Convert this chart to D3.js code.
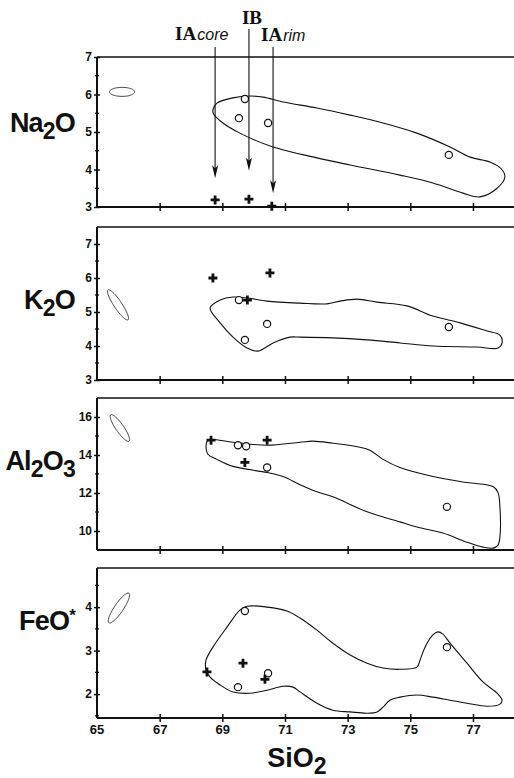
<!DOCTYPE html>
<html><head><meta charset="utf-8">
<script src="https://cdn.jsdelivr.net/npm/d3@7"></script>
<style>body{margin:0;background:#fff}svg{display:block}</style>
</head><body><svg id="c" width="514" height="778"></svg>
<script>
// ---------------- DATA ----------------
const xTicks = [65, 67, 69, 71, 73, 75, 77];

const naTicks = [3, 4, 5, 6, 7];
const naMinor = [3.5, 4.5, 5.5, 6.5];
const naCross = [[68.77, 3.19], [69.85, 3.21], [70.58, 3.02]];
const naCircle = [[69.72, 5.88], [69.53, 5.37], [70.46, 5.24], [76.23, 4.39]];
const naEnvelope = [[68.70,5.59],[68.83,5.77],[69.34,5.91],[69.88,5.96],[70.30,5.93],[70.94,5.80],[72.02,5.64],[73.08,5.45],[74.13,5.24],[75.21,4.97],[76.27,4.60],[76.91,4.33],[77.54,4.20],[77.90,4.02],[78.02,3.80],[77.77,3.50],[77.22,3.27],[76.68,3.37],[75.72,3.64],[74.67,3.85],[73.08,4.12],[72.02,4.31],[70.62,4.60],[69.56,4.97],[69.02,5.24],[68.72,5.48]];
const naEllipse = [65.80, 6.07, 0.40, 0.0, 0.36];

const kTicks = [3, 4, 5, 6, 7];
const kMinor = [3.5, 4.5, 5.5, 6.5];
const kCross = [[68.70, 6.00], [70.52, 6.15], [69.80, 5.35]];
const kCircle = [[69.53, 5.35], [69.72, 4.18], [70.43, 4.65], [76.23, 4.56]];
const kEnvelope = [[68.61,5.12],[68.93,5.35],[69.34,5.44],[69.82,5.41],[70.43,5.32],[71.48,5.26],[72.34,5.24],[72.76,5.32],[73.30,5.38],[73.94,5.29],[74.89,5.18],[75.72,4.88],[76.59,4.68],[77.45,4.44],[77.86,4.32],[77.93,4.09],[77.80,3.94],[77.13,3.97],[75.72,4.00],[74.67,4.09],[73.62,4.18],[72.53,4.24],[71.48,4.26],[71.16,4.26],[70.62,4.09],[70.14,3.85],[69.79,3.94],[69.34,4.26],[68.93,4.68]];
const kEllipse = [65.67, 5.21, 0.32, -0.44, 0.22];

const alTicks = [10, 12, 14, 16];
const alMinor = [11, 13, 15];
const alCross = [[68.64, 14.78], [70.43, 14.78], [69.72, 13.61]];
const alCircle = [[69.50, 14.51], [69.76, 14.46], [70.43, 13.34], [76.17, 11.27]];
const alEnvelope = [[68.54,14.78],[69.34,14.67],[70.43,14.51],[71.48,14.67],[71.89,14.73],[72.53,14.62],[73.39,14.41],[73.71,14.25],[74.13,13.77],[74.67,13.34],[75.72,12.87],[76.81,12.55],[77.64,12.34],[77.80,12.02],[77.86,11.27],[77.86,9.68],[77.80,9.26],[77.64,9.10],[77.32,9.15],[76.81,9.41],[76.04,9.89],[75.21,10.21],[74.67,10.48],[73.62,11.01],[72.53,11.80],[72.02,12.07],[71.48,12.44],[70.94,12.87],[70.43,13.08],[69.34,13.40],[68.83,13.77],[68.54,14.04],[68.48,14.46]];
const alEllipse = [65.73, 15.42, 0.29, -0.69, 0.25];

const feTicks = [2, 3, 4];
const feMinor = [1.5, 2.5, 3.5, 4.5];
const feCross = [[68.51, 2.51], [69.66, 2.71], [70.36, 2.34]];
const feCircle = [[69.72, 3.91], [69.50, 2.16], [70.46, 2.48], [76.17, 3.08]];
const feEnvelope = [[68.48,2.78],[68.70,3.08],[69.15,3.54],[69.56,3.93],[69.79,4.02],[70.43,4.00],[71.06,3.91],[71.48,3.75],[72.02,3.47],[72.53,3.17],[73.08,2.90],[73.62,2.71],[74.13,2.60],[74.67,2.57],[75.21,2.62],[75.31,2.78],[75.47,3.08],[75.72,3.36],[75.88,3.43],[76.04,3.38],[76.27,3.17],[76.81,2.71],[77.32,2.28],[77.77,2.02],[77.93,1.86],[77.86,1.77],[77.45,1.72],[76.81,1.79],[76.27,1.86],[75.72,1.93],[75.21,1.98],[74.67,1.93],[74.35,1.86],[74.13,1.70],[73.94,1.59],[73.62,1.56],[73.08,1.59],[72.53,1.63],[72.02,1.79],[71.48,2.05],[71.26,2.16],[70.94,2.18],[70.43,2.09],[69.88,2.02],[69.34,2.05],[68.93,2.21],[68.61,2.39],[68.48,2.55]];
const feEllipse = [65.70, 3.98, 0.32, 0.34, 0.25];

const arrowNames = ["IA core", "IB", "IA rim"];
const arrowSiO2 = [68.77, 69.85, 70.62];
const arrowTipNa2O = [3.77, 3.97, 3.37];

// ---------------- LAYOUT ----------------
const svg = d3.select("#c");
const W = 514;
const x = d3.scaleLinear().domain([65, 78.31]).range([97, 514]);

const panels = [
  {title:[["Na",0],["2",1],["O",0]], dom:[3,7], rng:[207,57], ticks:naTicks, minor:naMinor, cross:naCross, circ:naCircle, env:naEnvelope, ell:naEllipse, ty:132, xl:false},
  {title:[["K",0],["2",1],["O",0]], dom:[3,7.5], rng:[380,227], ticks:kTicks, minor:kMinor, cross:kCross, circ:kCircle, env:kEnvelope, ell:kEllipse, ty:309, xl:false},
  {title:[["Al",0],["2",1],["O",0],["3",1]], dom:[9,17], rng:[550,398], ticks:alTicks, minor:alMinor, cross:alCross, circ:alCircle, env:alEnvelope, ell:alEllipse, ty:470, xl:false},
  {title:[["FeO",0],["*",2]], dom:[1.45,4.9], rng:[718,568], ticks:feTicks, minor:feMinor, cross:feCross, circ:feCircle, env:feEnvelope, ell:feEllipse, ty:630, xl:true}
];

const FONT = "'Liberation Sans', Arial, Helvetica, sans-serif";
const ink = "#111";

panels.forEach((p, i) => {
  const y = d3.scaleLinear().domain(p.dom).range(p.rng);
  const g = svg.append("g");
  const yTop = p.rng[1], yBot = p.rng[0], x0 = x(65);

  // frame: top line
  g.append("line").attr("x1", x0).attr("x2", W).attr("y1", yTop).attr("y2", yTop)
    .attr("stroke", ink).attr("stroke-width", 1.7);

  // bottom axis
  const xa = d3.axisBottom(x).tickValues(xTicks.slice(1)).tickSizeInner(4).tickSizeOuter(0)
    .tickFormat(p.xl ? d3.format("d") : "");
  const gx = g.append("g").attr("transform", `translate(0,${yBot})`).call(xa);
  gx.select(".domain").attr("d", `M${x0},0H${W}`).attr("stroke", ink).attr("stroke-width", 2);
  gx.selectAll(".tick line").attr("y1", -4).attr("y2", 4).attr("stroke", ink).attr("stroke-width", 1.5);
  gx.selectAll(".tick text").attr("y", 7).attr("dy", "0.71em")
    .attr("font-family", FONT).attr("font-weight", "bold").attr("font-size", 13).attr("fill", ink);
  if (p.xl) {
    gx.append("text").attr("x", x0).attr("y", 7).attr("dy", "0.71em").attr("text-anchor", "middle")
      .attr("font-family", FONT).attr("font-weight", "bold").attr("font-size", 13).attr("fill", ink).text("65");
  }

  // left axis
  const ya = d3.axisLeft(y).tickValues(p.ticks).tickSizeInner(3).tickSizeOuter(0).tickFormat(d3.format("d"));
  const gy = g.append("g").attr("transform", `translate(${x0},0)`).call(ya);
  gy.select(".domain").attr("d", `M0,${yTop}V${yBot}`).attr("stroke", ink).attr("stroke-width", 2);
  gy.selectAll(".tick line").attr("x1", -3).attr("x2", 3).attr("stroke", ink).attr("stroke-width", 1.5);
  gy.selectAll(".tick text").attr("x", -5).attr("font-family", FONT).attr("font-weight", "bold")
    .attr("font-size", 12).attr("fill", ink);
  g.selectAll(".minor").data(p.minor).join("line")
    .attr("x1", x0 - 2).attr("x2", x0 + 2).attr("y1", d => y(d)).attr("y2", d => y(d))
    .attr("stroke", ink).attr("stroke-width", 1.2);

  // y title
  const t = g.append("text").attr("x", 75).attr("y", p.ty).attr("text-anchor", "end")
    .attr("font-family", FONT).attr("font-weight", "bold").attr("font-size", 27).attr("fill", ink)
    .attr("letter-spacing", -0.8);
  p.title.forEach(([s, k]) => {
    const ts = t.append("tspan").text(s);
    if (k === 1) ts.attr("font-size", 23).attr("dy", 7);
    else if (k === 2) ts.attr("font-size", 17).attr("dy", -9);
    else ts.attr("dy", t.selectAll("tspan").size() > 1 ? -7 : 0);
  });

  // envelope
  g.append("path").datum(p.env)
    .attr("d", d3.line().x(d => x(d[0])).y(d => y(d[1])).curve(d3.curveCatmullRomClosed.alpha(0.5)))
    .attr("fill", "none").attr("stroke", ink).attr("stroke-width", 1.1);

  // error ellipse
  const [cx, cy, dx, dy, r] = p.ell;
  const c = [x(cx), y(cy)];
  const a = [x(cx + dx) - c[0], y(cy + dy) - c[1]];
  const bvec = [-a[1] * r, a[0] * r];
  const pts = d3.range(0, 2 * Math.PI, Math.PI / 40).map(th =>
    [c[0] + a[0] * Math.cos(th) + bvec[0] * Math.sin(th), c[1] + a[1] * Math.cos(th) + bvec[1] * Math.sin(th)]);
  g.append("path").attr("d", d3.line().curve(d3.curveLinearClosed)(pts))
    .attr("fill", "none").attr("stroke", ink).attr("stroke-width", 0.8);

  // circles
  g.selectAll(".circ").data(p.circ).join("circle")
    .attr("cx", d => x(d[0])).attr("cy", d => y(d[1])).attr("r", 3.6)
    .attr("fill", "#fff").attr("stroke", ink).attr("stroke-width", 1.2);

  // crosses
  g.selectAll(".cross").data(p.cross).join("path")
    .attr("d", d => `M${x(d[0]) - 4.5},${y(d[1])}h9M${x(d[0])},${y(d[1]) - 4.5}v9`)
    .attr("stroke", ink).attr("stroke-width", 2.8).attr("fill", "none");

  // arrows (first panel)
  if (i === 0) {
    const starts = [47, 29, 47];
    arrowSiO2.forEach((sx, j) => {
      const ax = x(sx), tip = y(arrowTipNa2O[j]);
      svg.append("line").attr("x1", ax).attr("x2", ax).attr("y1", starts[j]).attr("y2", tip - 8)
        .attr("stroke", ink).attr("stroke-width", 1.1);
      svg.append("path").attr("d", `M${ax},${tip}L${ax - 3},${tip - 13}L${ax},${tip - 10}L${ax + 3},${tip - 13}Z`)
        .attr("fill", ink);
    });
    // labels
    const serif = "'Liberation Serif', 'Times New Roman', serif";
    const lab = (txt, xx, yy, anchor) => {
      const tt = svg.append("text").attr("x", xx).attr("y", yy).attr("text-anchor", anchor).attr("fill", ink);
      const parts = txt.split(" ");
      tt.append("tspan").text(parts[0]).attr("font-family", serif).attr("font-weight", "bold").attr("font-size", 19);
      if (parts[1]) tt.append("tspan").text(parts[1]).attr("font-family", FONT).attr("font-style", "italic")
        .attr("font-size", 16).attr("dx", 1);
    };
    lab(arrowNames[0], x(arrowSiO2[0]) - 40, 40, "start");
    lab(arrowNames[1], x(arrowSiO2[1]) + 3, 24, "middle");
    lab(arrowNames[2], x(arrowSiO2[2]) - 12, 41, "start");
  }
});

// x title
const xt = svg.append("text").attr("x", 297).attr("y", 767).attr("text-anchor", "middle")
  .attr("font-family", FONT).attr("font-weight", "bold").attr("font-size", 27).attr("fill", ink);
xt.append("tspan").text("SiO");
xt.append("tspan").text("2").attr("font-size", 23).attr("dy", 7);
</script>
</body></html>
